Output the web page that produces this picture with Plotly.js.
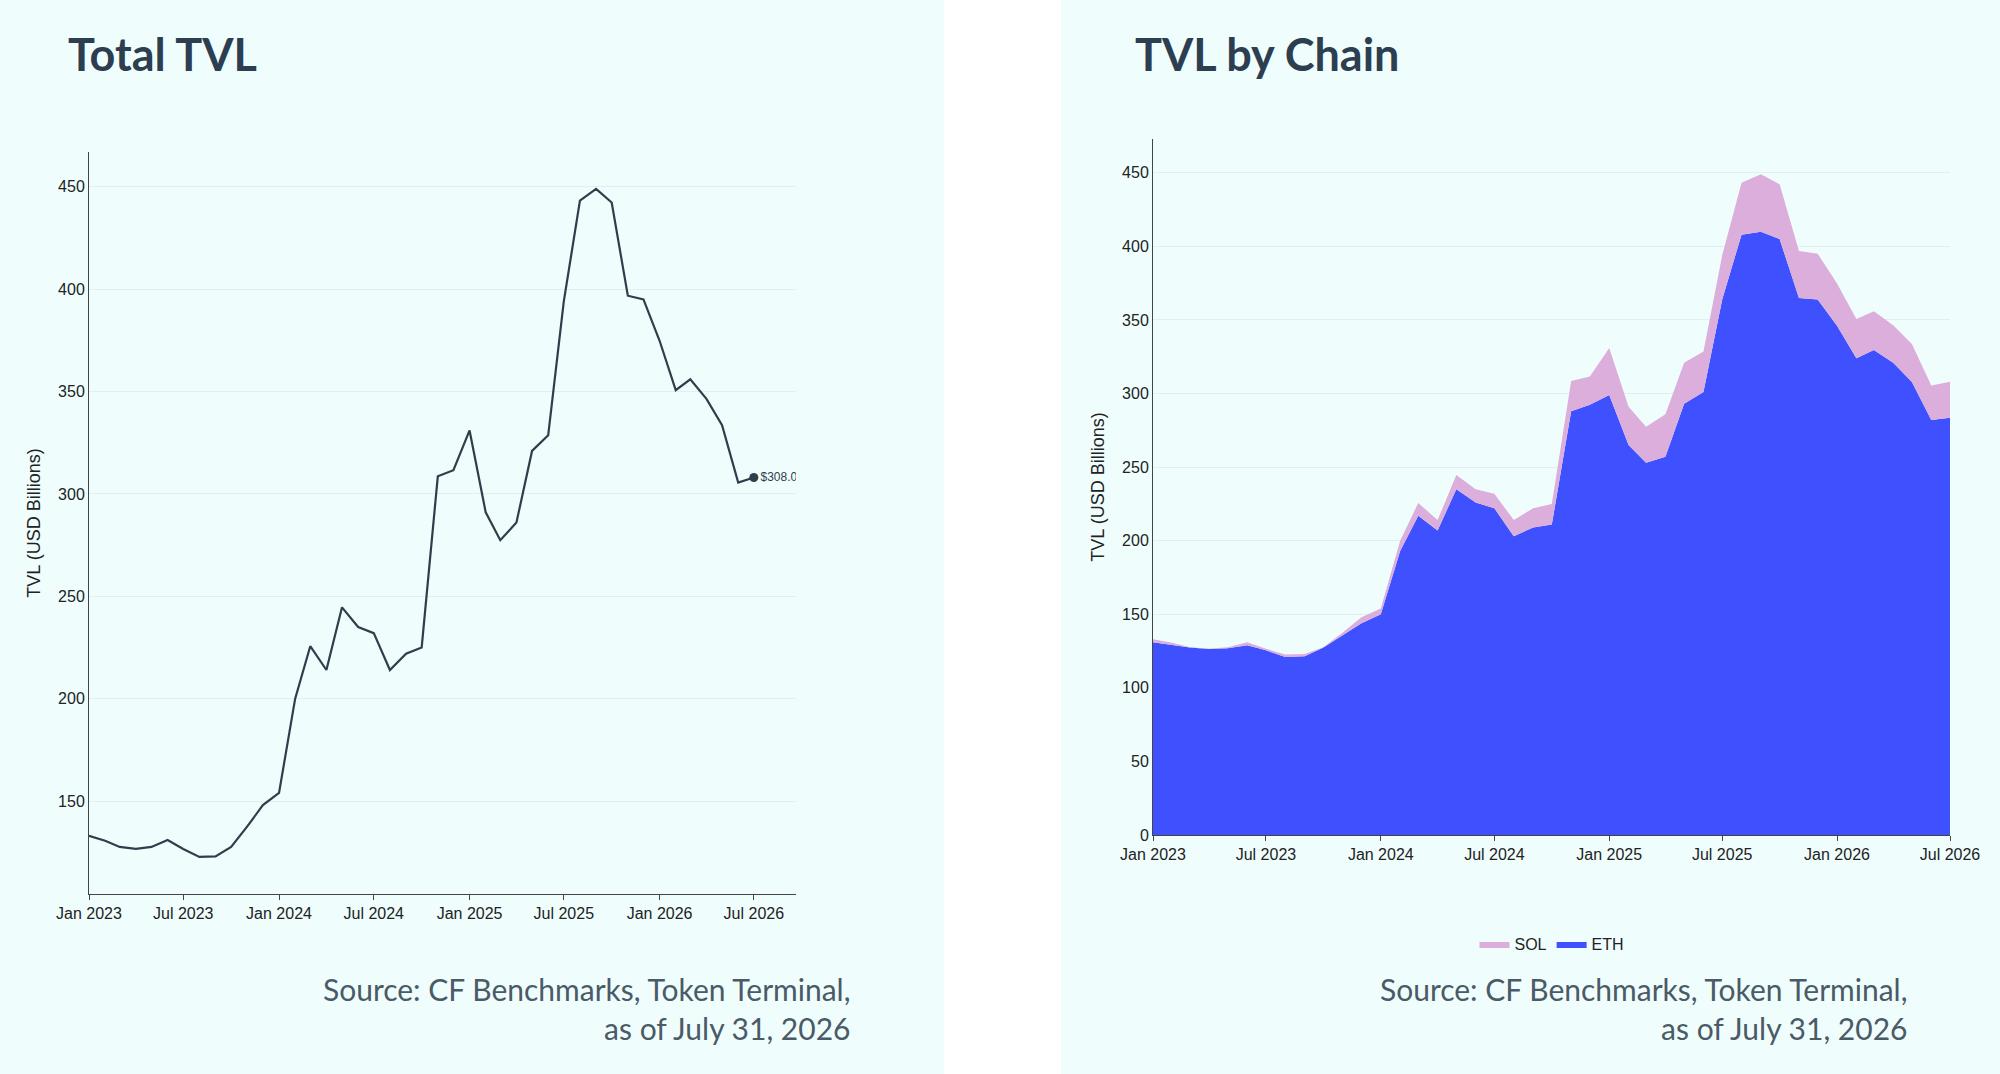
<!DOCTYPE html>
<html>
<head>
<meta charset="utf-8">
<script src="https://cdn.plot.ly/plotly-3.0.1.min.js"></script>
<style>html,body{margin:0;padding:0;background:#fff}#chart{width:2000px;height:1074px}</style>
</head>
<body>
<div id="chart"></div>
<script>
const months = [
    '2023-01-01','2023-02-01','2023-03-01','2023-04-01','2023-05-01','2023-06-01','2023-07-01','2023-08-01','2023-09-01','2023-10-01','2023-11-01','2023-12-01',
    '2024-01-01','2024-02-01','2024-03-01','2024-04-01','2024-05-01','2024-06-01','2024-07-01','2024-08-01','2024-09-01','2024-10-01','2024-11-01','2024-12-01',
    '2025-01-01','2025-02-01','2025-03-01','2025-04-01','2025-05-01','2025-06-01','2025-07-01','2025-08-01','2025-09-01','2025-10-01','2025-11-01','2025-12-01',
    '2026-01-01','2026-02-01','2026-03-01','2026-04-01','2026-05-01','2026-06-01','2026-07-01'
];
const totalTvl = [
    133, 130.6, 127.6, 126.6, 127.6, 131, 126.6, 122.7, 123, 127.6, 137.6, 148,
    154, 200, 225.6, 214, 244.6, 235, 232, 214, 222, 225, 308.6, 311.6,
    331, 291, 277.4, 286, 321, 328.6, 394, 443.3, 449, 442.3, 396.8, 395,
    374.8, 350.7, 356, 346.4, 333.6, 305.5, 308
];
const ethTvl = [
    131, 129, 127.4, 126.5, 127, 129, 125.5, 121, 121.5, 127.4, 136, 144,
    150, 193, 217, 207, 235, 226, 222, 203, 209, 211, 288, 292.4,
    299, 265, 253, 257, 293, 301, 364, 408, 410, 405, 365, 364,
    346, 324, 329.6, 321, 307.8, 282, 283.6
];
const solTvl = totalTvl.map((v, i) => Math.max(0, v - ethTvl[i]));

const lastIdx = months.length - 1;
const textColor = '#222222';
const axisFont = { family: 'Liberation Sans, Arial, sans-serif', size: 16, color: textColor };
const gridColor = '#e3eeee';
const panelBg = '#effefd';
const titleColor = '#2c3e50';

const data = [
    {
        x: months, y: totalTvl, type: 'scatter', mode: 'lines',
        line: { color: '#2f3e4a', width: 2.2 },
        xaxis: 'x', yaxis: 'y', showlegend: false,
    },
    {
        x: [months[lastIdx]], y: [totalTvl[lastIdx]], type: 'scatter', mode: 'markers+text',
        marker: { color: '#2f3e4a', size: 9 },
        text: ['$' + totalTvl[lastIdx].toFixed(1)], textposition: 'middle right',
        textfont: { family: 'Liberation Sans, Arial, sans-serif', size: 12, color: '#2f3e4a' },
        cliponaxis: true, xaxis: 'x', yaxis: 'y', showlegend: false,
    },
    {
        x: months, y: ethTvl, type: 'scatter', mode: 'lines', stackgroup: 'chain',
        name: 'ETH', line: { width: 0, color: '#3f51ff' }, fillcolor: '#3f51ff',
        xaxis: 'x2', yaxis: 'y2',
    },
    {
        x: months, y: solTvl, type: 'scatter', mode: 'lines', stackgroup: 'chain',
        name: 'SOL', line: { width: 0, color: '#dcaedb' }, fillcolor: '#dcaedb',
        xaxis: 'x2', yaxis: 'y2',
    },
];

const xBase = {
    type: 'date', dtick: 'M6', tick0: '2023-01-01', tickformat: '%b %Y',
    showgrid: false, showline: true, linecolor: '#444', linewidth: 1,
    ticks: 'outside', ticklen: 5, tickcolor: '#444', tickfont: axisFont,
};
const yBase = {
    showline: true, linecolor: '#444', linewidth: 1, gridcolor: gridColor,
    zeroline: false, ticks: '', tickfont: axisFont,
    title: { text: 'TVL (USD Billions)', font: { family: 'Liberation Sans, Arial, sans-serif', size: 18, color: textColor }, standoff: 12 },
};

const layout = {
    width: 2000, height: 1074,
    paper_bgcolor: '#ffffff', plot_bgcolor: 'rgba(0,0,0,0)',
    margin: { l: 0, r: 0, t: 0, b: 0 },
    xaxis: Object.assign({}, xBase, { domain: [0.0445, 0.398], range: ['2023-01-01', '2026-09-20'], anchor: 'y' }),
    yaxis: Object.assign({}, yBase, { domain: [0.1676, 0.8585], range: [104.6, 467], dtick: 50, anchor: 'x' }),
    xaxis2: Object.assign({}, xBase, { domain: [0.5765, 0.975], range: ['2023-01-01', '2026-07-01'], anchor: 'y2' }),
    yaxis2: Object.assign({}, yBase, { domain: [0.2225, 0.8706], range: [0, 473], dtick: 50, anchor: 'x2' }),
    showlegend: true,
    legend: {
        orientation: 'h', x: 0.776, xanchor: 'center', y: 0.121, yanchor: 'middle',
        traceorder: 'reversed', font: axisFont, bgcolor: 'rgba(0,0,0,0)',
    },
    shapes: [
        { type: 'rect', xref: 'paper', yref: 'paper', x0: 0, x1: 0.472, y0: 0, y1: 1, fillcolor: panelBg, line: { width: 0 }, layer: 'below' },
        { type: 'rect', xref: 'paper', yref: 'paper', x0: 0.5305, x1: 1, y0: 0, y1: 1, fillcolor: panelBg, line: { width: 0 }, layer: 'below' },
    ],
    annotations: [
        { text: '<b>Total TVL</b>', xref: 'paper', yref: 'paper', x: 0.033, y: 1 - 54 / 1074, xanchor: 'left', yanchor: 'middle', showarrow: false,
          font: { family: 'Lato, Inter, sans-serif', size: 45, color: titleColor } },
        { text: '<b>TVL by Chain</b>', xref: 'paper', yref: 'paper', x: 0.5665, y: 1 - 54 / 1074, xanchor: 'left', yanchor: 'middle', showarrow: false,
          font: { family: 'Lato, Inter, sans-serif', size: 45, color: titleColor } },
        { text: 'Source: CF Benchmarks, Token Terminal,<br>as of July 31, 2026', xref: 'paper', yref: 'paper', x: 0.426, y: 1 - 1008 / 1074,
          xanchor: 'right', yanchor: 'middle', align: 'right', showarrow: false,
          font: { family: 'Lato, sans-serif', size: 30, color: '#4a5a66' } },
        { text: 'Source: CF Benchmarks, Token Terminal,<br>as of July 31, 2026', xref: 'paper', yref: 'paper', x: 0.9545, y: 1 - 1008 / 1074,
          xanchor: 'right', yanchor: 'middle', align: 'right', showarrow: false,
          font: { family: 'Lato, sans-serif', size: 30, color: '#4a5a66' } },
    ],
};

Plotly.newPlot('chart', data, layout, { displayModeBar: false, staticPlot: true });
</script>
</body>
</html>
